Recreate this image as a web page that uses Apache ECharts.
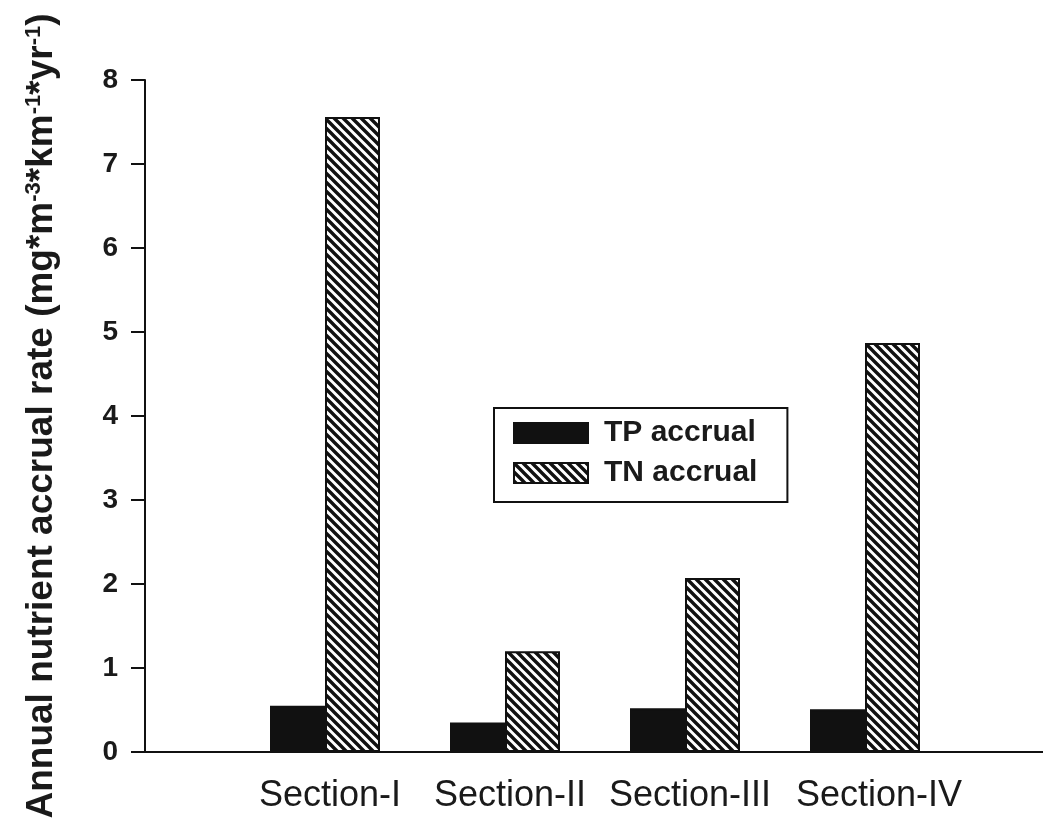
<!DOCTYPE html>
<html>
<head>
<meta charset="utf-8">
<script src="https://cdn.jsdelivr.net/npm/echarts@6/dist/echarts.min.js"></script>
<style>
html,body{margin:0;padding:0;background:#fff;}
#chart{width:1043px;height:824px;}
</style>
</head>
<body>
<div id="chart"></div>
<script>
const categories = ['', 'Section-I', 'Section-II', 'Section-III', 'Section-IV', ''];
const tpAccrual = [null, 0.55, 0.35, 0.52, 0.51, null];
const tnAccrual = [null, 7.56, 1.2, 2.07, 4.87, null];
const yTicks = [0, 1, 2, 3, 4, 5, 6, 7, 8];

function hatch() {
  const s = 9;
  const c = document.createElement('canvas');
  c.width = s; c.height = s;
  const g = c.getContext('2d');
  g.fillStyle = '#fff';
  g.fillRect(0, 0, s, s);
  g.strokeStyle = '#111';
  g.lineWidth = 3.4;
  g.lineCap = 'square';
  [-s, 0, s].forEach(function (k) {
    g.beginPath();
    g.moveTo(-1, k - 1);
    g.lineTo(s + 1, k + s + 1);
    g.stroke();
  });
  return c;
}

const chart = echarts.init(document.getElementById('chart'), null, {renderer: 'canvas'});
const font = 'Liberation Sans, Arial, sans-serif';
chart.setOption({
  backgroundColor: '#fff',
  animation: false,
  textStyle: {fontFamily: font},
  grid: {left: 145, right: -2, top: 80, bottom: 72, containLabel: false, outerBoundsMode: 'none'},
  legend: {
    orient: 'vertical',
    left: 494, top: 408,
    padding: [10, 30, 14, 19],
    itemWidth: 74, itemHeight: 20, itemGap: 10,
    icon: 'rect',
    borderColor: '#111', borderWidth: 2,
    selectedMode: false,
    textStyle: {fontFamily: font, fontSize: 30, fontWeight: 'bold', color: '#1a1a1a', lineHeight: 30, padding: [0, 0, 0, 11]},
    data: ['TP accrual', 'TN accrual']
  },
  xAxis: {
    type: 'category',
    data: categories,
    boundaryGap: false,
    axisLine: {lineStyle: {color: '#111', width: 2}},
    axisTick: {show: false},
    axisLabel: {
      fontFamily: font, fontSize: 36, color: '#1a1a1a', margin: 26, interval: 0,
      formatter: function (v, i) {
        if (!v) return '';
        return i === categories.length - 2 ? '{w|' + v + '}' : '{n|' + v + '}';
      },
      rich: {
        n: {fontFamily: font, fontSize: 36, color: '#1a1a1a', padding: [0, 0, 0, 10]},
        w: {fontFamily: font, fontSize: 36, color: '#1a1a1a', padding: [0, 0, 0, 28]}
      }
    },
    splitLine: {show: false}
  },
  yAxis: {
    type: 'value',
    min: yTicks[0], max: yTicks[yTicks.length - 1], interval: 1,
    axisLine: {show: true, lineStyle: {color: '#111', width: 2}},
    axisTick: {show: true, inside: false, length: 14, lineStyle: {color: '#111', width: 2}},
    axisLabel: {fontFamily: font, fontSize: 28, fontWeight: 'bold', color: '#1a1a1a', margin: 27},
    splitLine: {show: false},
    name: '{b|Annual nutrient accrual rate (mg*m}{s|-3}{b|*km}{s|-1}{b|*yr}{s|-1}{b|)}',
    nameLocation: 'middle',
    nameRotate: 90,
    nameGap: 84,
    nameTextStyle: {
      rich: {
        b: {fontFamily: font, fontSize: 37, fontWeight: 'bold', color: '#1a1a1a'},
        s: {fontFamily: font, fontSize: 22, fontWeight: 'bold', color: '#1a1a1a', verticalAlign: 'top', padding: [0, 0, 16, 0]}
      }
    }
  },
  series: [
    {
      name: 'TP accrual', type: 'bar', data: tpAccrual,
      barWidth: 55, barGap: '0%',
      itemStyle: {color: '#111', borderColor: '#111', borderWidth: 2}
    },
    {
      name: 'TN accrual', type: 'bar', data: tnAccrual,
      barWidth: 55, barGap: '0%',
      itemStyle: {color: {image: hatch(), repeat: 'repeat'}, borderColor: '#111', borderWidth: 2}
    }
  ]
});
</script>
</body>
</html>
